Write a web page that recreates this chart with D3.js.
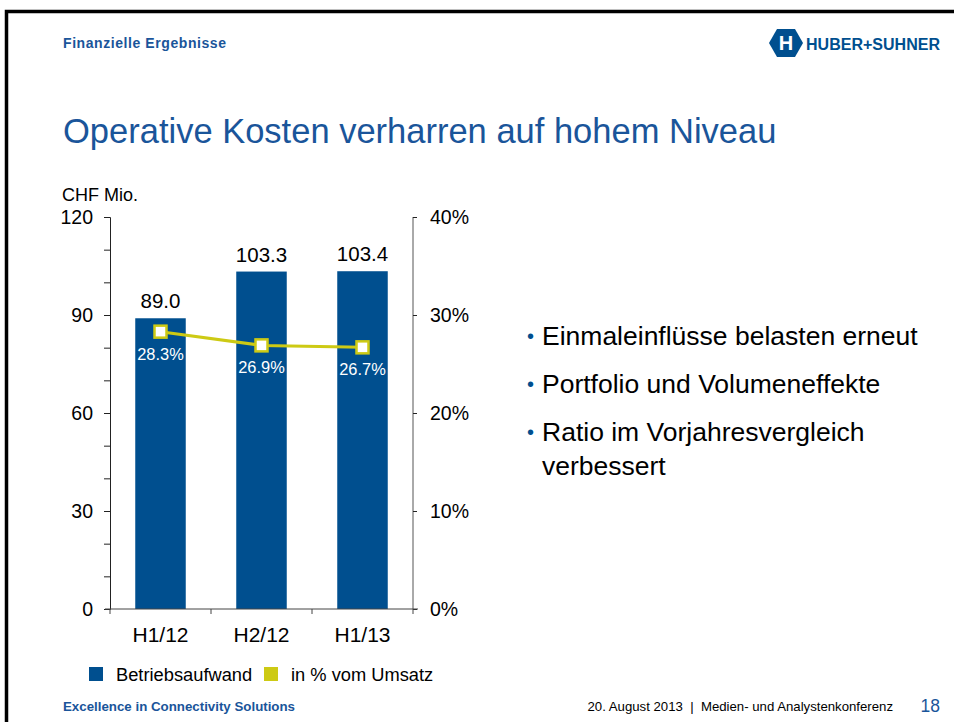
<!DOCTYPE html>
<title>Operative Kosten</title>
<body>
<script src="https://cdn.jsdelivr.net/npm/d3@7"></script>
<style>
  html, body { margin: 0; width: 100%; height: 100%; overflow: hidden; background: #fff; }
  svg text { font-family: "Liberation Sans", Arial, sans-serif; white-space: pre; }
</style>
<script>
  // chart values
  var categories = ["H1/12", "H2/12", "H1/13"],
    costs = [89.0, 103.3, 103.4],        // CHF Mio.
    ratio = [28.3, 26.9, 26.7],          // in % vom Umsatz
    leftTicks = [0, 30, 60, 90, 120],
    rightTicks = [0, 10, 20, 30, 40],
    legendLabels = ["Betriebsaufwand", "in % vom Umsatz"],
    bullets = [["Einmaleinflüsse belasten erneut"], ["Portfolio und Volumeneffekte"],
               ["Ratio im Vorjahresvergleich", "verbessert"]];

  var blue = "#004f8f", yellow = "#cdca14", titleBlue = "#1a559a";

  var svg = d3.select("body").append("svg")
    .attr("width", 954)
    .attr("height", 722);

  // slide frame (top + left edges visible)
  svg.append("path")
    .attr("d", "M6.5,722 V11.5 H954")
    .attr("fill", "none")
    .attr("stroke", "#000")
    .attr("stroke-width", 3.5);

  svg.append("text").attr("x", 63).attr("y", 48)
    .attr("fill", titleBlue).attr("font-weight", "bold").attr("font-size", 14)
    .attr("textLength", 163).text("Finanzielle Ergebnisse");

  // logo
  var logo = svg.append("g").attr("transform", "translate(786,43)");
  logo.append("path")
    .attr("d", "M-9,-14 H9 L17,0 L9,14 H-9 L-17,0 Z")
    .attr("fill", blue);
  logo.append("text").attr("x", 0).attr("y", 7).attr("text-anchor", "middle")
    .attr("fill", "#fff").attr("font-weight", "bold").attr("font-size", 20).text("H");
  logo.append("text").attr("x", 20).attr("y", 7)
    .attr("fill", blue).attr("font-weight", "bold").attr("font-size", 16)
    .attr("textLength", 134).text("HUBER+SUHNER");

  svg.append("text").attr("x", 63).attr("y", 143)
    .attr("fill", titleBlue).attr("font-size", 34.5)
    .text("Operative Kosten verharren auf hohem Niveau");

  // scales
  var x = d3.scaleBand().domain(categories).range([110, 413]).paddingInner(0.5).paddingOuter(0.25),
    y = d3.scaleLinear().domain([0, 120]).range([609, 217]),
    y2 = d3.scaleLinear().domain([0, 40]).range([609, 217]);

  svg.append("text").attr("x", 62).attr("y", 201).attr("font-size", 18).text("CHF Mio.");

  // bars
  svg.selectAll("rect.bar").data(costs).enter().append("rect")
    .attr("class", "bar")
    .attr("x", function(d, i) { return x(categories[i]); })
    .attr("width", x.bandwidth())
    .attr("y", function(d) { return y(d); })
    .attr("height", function(d) { return y(0) - y(d); })
    .attr("fill", blue);

  svg.selectAll("text.val").data(costs).enter().append("text")
    .attr("class", "val")
    .attr("x", function(d, i) { return x(categories[i]) + x.bandwidth() / 2; })
    .attr("y", function(d) { return y(d) - 10; })
    .attr("text-anchor", "middle").attr("font-size", 20.5)
    .text(function(d) { return d.toFixed(1); });

  // axes
  var left = svg.append("g").attr("transform", "translate(110,0)")
    .call(d3.axisLeft(y).tickValues(d3.range(0, 121, 10)).tickSize(6).tickPadding(11)
      .tickFormat(function(d) { return leftTicks.indexOf(d) >= 0 ? d : ""; }));
  var right = svg.append("g").attr("transform", "translate(413,0)")
    .call(d3.axisRight(y2).tickValues(rightTicks).tickSize(4).tickPadding(13)
      .tickFormat(function(d) { return d + "%"; }));
  var bottom = svg.append("g").attr("transform", "translate(0,609)")
    .call(d3.axisBottom(x).tickSize(0).tickPadding(18));

  [left, right, bottom].forEach(function(g) {
    g.select(".domain").attr("stroke", "#222");
    g.selectAll(".tick line").attr("stroke", "#222");
    g.selectAll("text").attr("font-size", 19.5).attr("fill", "#000")
      .attr("font-family", "Liberation Sans, Arial, sans-serif");
  });
  bottom.selectAll("text").attr("font-size", 21);
  right.select(".domain").attr("d", "M0,217 V609").attr("stroke", "#555");
  bottom.select(".domain").attr("d", "M105,0 H418").attr("stroke", "#444");

  // category separator ticks on the x axis
  svg.selectAll("line.sep").data(d3.range(categories.length + 1)).enter().append("line")
    .attr("class", "sep")
    .attr("x1", function(i) { return 110 + i * x.step(); })
    .attr("x2", function(i) { return 110 + i * x.step(); })
    .attr("y1", 609).attr("y2", 614)
    .attr("stroke", "#444");

  // ratio line
  var cx = function(i) { return x(categories[i]) + x.bandwidth() / 2; };
  svg.append("path")
    .datum(ratio)
    .attr("d", d3.line().x(function(d, i) { return cx(i); }).y(function(d) { return y2(d); }))
    .attr("fill", "none").attr("stroke", yellow).attr("stroke-width", 3);

  svg.selectAll("rect.mk").data(ratio).enter().append("rect")
    .attr("class", "mk")
    .attr("x", function(d, i) { return cx(i) - 6; })
    .attr("y", function(d) { return y2(d) - 6; })
    .attr("width", 12).attr("height", 12)
    .attr("fill", "#fff").attr("stroke", yellow).attr("stroke-width", 2.5);

  svg.selectAll("text.pct").data(ratio).enter().append("text")
    .attr("class", "pct")
    .attr("x", function(d, i) { return cx(i); })
    .attr("y", function(d) { return y2(d) + 28; })
    .attr("text-anchor", "middle").attr("fill", "#fff").attr("font-size", 16.4)
    .text(function(d) { return d.toFixed(1) + "%"; });

  // legend
  var legend = svg.selectAll("g.leg").data(legendLabels).enter().append("g")
    .attr("class", "leg")
    .attr("transform", function(d, i) { return "translate(" + [89 + i * 175, 667] + ")"; });
  legend.append("rect").attr("width", 14).attr("height", 14)
    .attr("fill", function(d, i) { return i ? yellow : blue; });
  legend.append("text").attr("x", 27).attr("y", 14).attr("font-size", 18.3)
    .text(function(d) { return d; });

  // bullet points
  var bl = svg.selectAll("g.bullet").data(bullets).enter().append("g")
    .attr("class", "bullet")
    .attr("transform", function(d, i) { return "translate(527," + (345 + i * 48) + ")"; });
  bl.append("text").attr("font-size", 20).attr("fill", blue).attr("y", -2).text("•");
  bl.selectAll("text.line").data(function(d) { return d; }).enter().append("text")
    .attr("class", "line")
    .attr("x", 15)
    .attr("y", function(d, i) { return i * 34; })
    .attr("font-size", 26.5)
    .text(function(d) { return d; });

  // footer
  svg.append("text").attr("x", 63).attr("y", 711)
    .attr("fill", titleBlue).attr("font-weight", "bold").attr("font-size", 13.3)
    .text("Excellence in Connectivity Solutions");
  svg.append("text").attr("x", 893).attr("y", 711).attr("text-anchor", "end")
    .attr("font-size", 13.2)
    .text("20. August 2013  |  Medien- und Analystenkonferenz");
  svg.append("text").attr("x", 940).attr("y", 712).attr("text-anchor", "end")
    .attr("fill", titleBlue).attr("font-size", 17.5).text("18");
</script>
